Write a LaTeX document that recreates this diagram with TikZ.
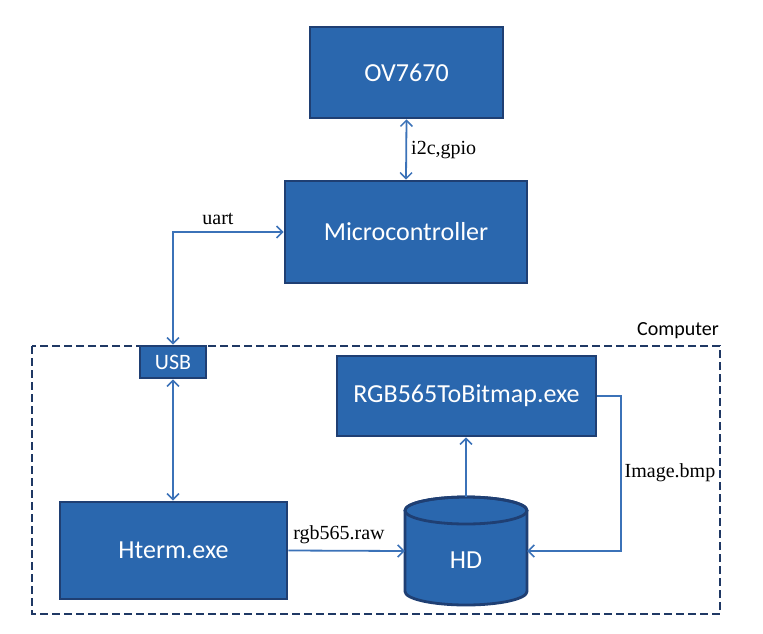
\documentclass[tikz,border=0pt]{standalone}
\usepackage{fontspec}
\setmainfont{Liberation Serif}
\newfontfamily\boxfont{Carlito}
\usetikzlibrary{arrows.meta}
\definecolor{boxfill}{HTML}{2A67AE}
\definecolor{boxline}{HTML}{1F3F73}
\definecolor{arrowcol}{HTML}{3B72B8}
\definecolor{dashcol}{HTML}{1F3864}
\tikzset{
  blockbox/.style={draw=boxline, line width=2.8pt, fill=boxfill, text=white, inner sep=0pt, font=\boxfont\fontsize{26}{30}\selectfont},
  conn/.style={draw=arrowcol, line width=1.8pt},
  tip/.style={-{Straight Barb[length=6pt,width=12pt,line width=1.5pt]}},
  dtip/.style={{Straight Barb[length=6pt,width=12pt,line width=1.5pt]}-{Straight Barb[length=6pt,width=12pt,line width=1.5pt]}},
  lbl/.style={font=\fontsize{20}{24}\selectfont, inner sep=0pt},
}
\begin{document}
\begin{tikzpicture}[x=1pt,y=1pt]
\useasboundingbox (0,0) rectangle (763,-634);
% computer frame
\draw[dashcol, line width=2.8pt, dash pattern=on 8pt off 4pt] (32,-346) rectangle (720,-614);
\node[lbl, font=\boxfont\fontsize{20}{24}\selectfont] (comp) at (678,-331) {Computer};
% boxes
\node[blockbox, minimum width=193pt, minimum height=91pt] (ov) at (406.5,-72.5) {OV7670};
\node[blockbox, minimum width=242pt, minimum height=102pt] (mc) at (406,-232) {Microcontroller};
\node[blockbox, minimum width=66pt, minimum height=32pt, font=\boxfont\fontsize{22}{24}\selectfont] (usb) at (173,-362) {USB};
\node[blockbox, minimum width=259pt, minimum height=80pt] (rgb) at (466.5,-396) {RGB565ToBitmap.exe};
\node[blockbox, minimum width=227pt, minimum height=97pt] (ht) at (173.5,-550.5) {Hterm.exe};
% HD cylinder
\draw[draw=boxline, line width=2.8pt, fill=boxfill]
  (405,-510.5) -- (405,-591.5) arc[start angle=180, end angle=360, x radius=61pt, y radius=13.5pt]
  -- (527,-510.5) arc[start angle=0, end angle=180, x radius=61pt, y radius=13.5pt] -- cycle;
\draw[draw=boxline, line width=2.8pt] (466,-510.5) ellipse[x radius=61pt, y radius=13.5pt];
\node[minimum width=122pt, minimum height=108pt, inner sep=0pt] (hd) at (466,-551) {};
\node[text=white, font=\boxfont\fontsize{26}{30}\selectfont, inner sep=0pt] (hdtext) at (466,-560) {HD};
% connectors
\draw[conn, dtip] (ov.south) -- (mc.north);
\node[lbl, anchor=west] (l1) at (411,-150) {i2c,gpio};
\draw[conn, dtip] (usb.north) |- (mc.west);
\node[lbl] (l2) at (218,-219) {uart};
\draw[conn, dtip] (usb.south) -- (usb.south |- ht.north);
\draw[conn, tip] (ht.east) -- (hd.west);
\node[lbl] (l3) at (339,-535) {rgb565.raw};
\draw[conn, tip] (hd.north) -- (hd.north |- rgb.south);
\coordinate (bend) at (621,-396);
\draw[conn, tip] (rgb.east) -- (bend) |- (hd.east);
\node[lbl] (l4) at (670,-473) {Image.bmp};
\end{tikzpicture}
\end{document}
